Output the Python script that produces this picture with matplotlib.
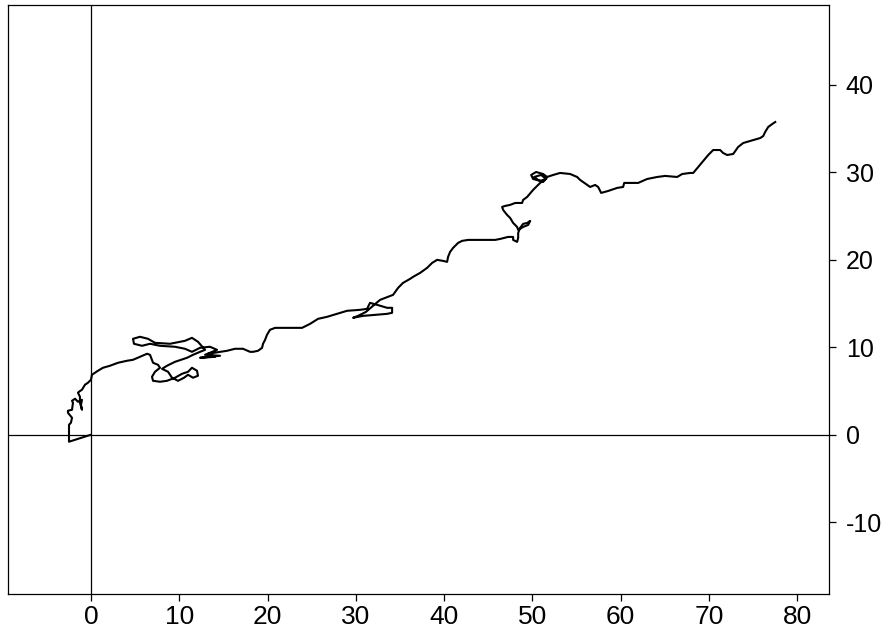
import numpy as np
import matplotlib
matplotlib.use("Agg")
import matplotlib.pyplot as plt

# track (x, y in axis units)
track_x = [0, -2.49, -2.49, -2.27, -2.15, -2.61, -2.61, -2.15, -2.04, -2.15, -1.81, -1.47, -1.02, -1.13, -1.02, -1.25,
           -1.25, -1.47, -1.36, -1.02, -0.68, -0.34, 0, 0.11, 0.45, 0.79, 1.36, 2.15, 3.06, 4.08, 4.76, 5.55, 6.35,
           6.69, 6.91, 7.03, 7.59, 7.82,
           7.25, 6.91, 7.03, 7.82, 8.61, 9.52, 10.31, 10.99, 11.44, 12.01, 12.12, 11.56, 10.99, 10.54, 9.86, 9.18,
           8.73, 8.05, 8.61, 9.52, 10.88, 11.56, 12.35, 12.92,
           12.12, 11.44, 10.65, 8.95, 7.25, 6.46, 5.55, 4.76, 4.87, 5.78, 6.69, 7.82, 9.52, 10.65, 11.44, 12.35,
           13.48, 14.28, 12.92, 14.62, 12.35, 14.05, 13.26,
           14.62, 15.41, 16.32, 17.22, 18.02, 18.36, 18.92, 19.38, 19.49, 19.72, 19.94, 20.28, 20.85, 21.76, 22.89,
           23.91, 24.82, 25.72, 26.74, 27.88, 29.01, 30.48, 31.27,
           31.61, 32.41, 33.54, 34.11, 34.11, 33.54, 30.82, 29.69, 30.25, 31.16, 31.95, 32.75, 34.22,
           34.79, 35.35, 36.15, 36.49, 37.28, 38.07, 38.64, 39.21, 39.89, 40.34, 40.45, 40.68, 41.02, 41.59, 42.04,
           42.72, 44.08, 45.78, 46.35, 47.25, 47.82, 47.82, 48.27, 48.39, 48.39, 48.61, 48.95, 49.41, 49.75, 49.52,
           48.95, 48.39, 48.27, 47.82, 47.48, 47.14, 46.69, 46.57, 46.91, 47.48, 48.05, 48.84, 48.95, 49.41, 50.08,
           50.88,
           51.33, 51.67, 51.22, 50.42, 49.86, 50.08, 50.88, 51.56, 50.99, 50.20, 50.65, 51.22, 51.67, 52.35, 53.14,
           54.28, 55.07,
           55.41, 56.20, 56.54, 57.11, 57.45, 57.79, 58.58, 59.60, 60.28, 60.40, 61.30, 61.98, 63.00, 64.14, 65.04,
           66.40, 66.97, 67.88, 68.22, 68.78, 69.35, 69.92, 70.48, 71.27, 71.61, 72.07, 72.75, 73.31, 73.88, 74.67,
           75.81, 76.15, 76.37, 76.71, 77.17, 77.51]
track_y = [0, -0.80, 1.14, 1.37, 1.94, 2.51, 2.74, 2.85, 3.65, 3.88, 4.11, 3.77, 3.99, 3.42, 2.85, 3.65,
           4.34, 4.79, 4.91, 5.14, 5.71, 5.94, 6.28, 6.85, 7.08, 7.31, 7.65, 7.88, 8.22, 8.45, 8.56, 8.90, 9.25,
           9.13, 8.56, 8.22, 7.99, 7.65,
           7.19, 6.62, 6.16, 6.05, 6.16, 6.51, 6.96, 7.19, 7.65, 7.31, 6.74, 6.51, 6.85, 6.51, 6.16, 6.51,
           7.19, 7.53, 7.88, 8.33, 8.79, 9.13, 9.47, 9.70,
           10.62, 11.07, 10.73, 10.39, 10.50, 10.96, 11.19, 10.96, 10.39, 10.16, 10.39, 10.16, 10.05, 9.82, 9.47, 9.93,
           10.05, 9.70, 9.13, 9.02, 8.79, 8.90, 9.25,
           9.47, 9.59, 9.82, 9.82, 9.47, 9.47, 9.59, 9.93, 10.39, 10.84, 11.42, 11.99, 12.21, 12.21, 12.21,
           12.21, 12.67, 13.24, 13.47, 13.81, 14.16, 14.27, 14.38,
           15.07, 14.84, 14.50, 14.50, 13.93, 13.81, 13.58, 13.36, 13.58, 14.04, 14.73, 15.41, 15.98,
           16.78, 17.35, 17.81, 18.04, 18.49, 19.06, 19.63, 19.98, 19.86, 19.75, 20.32, 20.89, 21.35, 21.92, 22.15,
           22.26, 22.26, 22.26, 22.37, 22.60, 22.60, 22.26, 22.03, 22.49, 23.06, 23.63, 24.09, 24.20, 24.43, 23.97,
           23.74, 23.40, 23.74, 24.20, 24.77, 25.11, 25.68, 26.03, 26.14, 26.26, 26.48, 26.48, 26.83, 27.17, 27.97,
           28.77,
           29.11, 29.45, 29.79, 30.02, 29.68, 29.22, 29.00, 29.22, 29.68, 29.45, 29.11, 28.88, 29.45, 29.68, 29.91,
           29.79, 29.45,
           29.11, 28.54, 28.31, 28.54, 28.31, 27.63, 27.85, 28.20, 28.31, 28.77, 28.77, 28.77, 29.22, 29.45, 29.57,
           29.45, 29.79, 29.91, 29.91, 30.59, 31.28, 31.96, 32.53, 32.53, 32.19, 31.96, 32.08, 32.88, 33.33, 33.56,
           33.90, 34.13, 34.59, 35.16, 35.50, 35.73]

x_ticks = [0, 10, 20, 30, 40, 50, 60, 70, 80]
y_ticks = [-10, 0, 10, 20, 30, 40]

plt.rcParams['font.family'] = ['Liberation Sans', 'DejaVu Sans']
plt.rcParams['axes.unicode_minus'] = False

fig = plt.figure(figsize=(8.85, 6.34), dpi=100)
ax = fig.add_axes([8 / 885, 40 / 634, 821 / 885, 589 / 634])

ax.axhline(0, color='black', lw=0.9)
ax.axvline(0, color='black', lw=0.9)
ax.plot(track_x, track_y, color='black', lw=1.5)

ax.set_xlim(-9.4, 83.6)
ax.set_ylim(-18.2, 49.1)
ax.set_xticks(x_ticks)
ax.set_xticklabels([str(v) for v in x_ticks], fontsize=19)
ax.set_yticks(y_ticks)
ax.set_yticklabels([str(v) for v in y_ticks], fontsize=18)
ax.yaxis.tick_right()
ax.tick_params(length=5, width=0.9, direction='out')
ax.tick_params(axis='x', pad=3)
ax.tick_params(axis='y', pad=7)
for s in ax.spines.values():
    s.set_linewidth(0.9)

fig.savefig('out.png', dpi=100)
